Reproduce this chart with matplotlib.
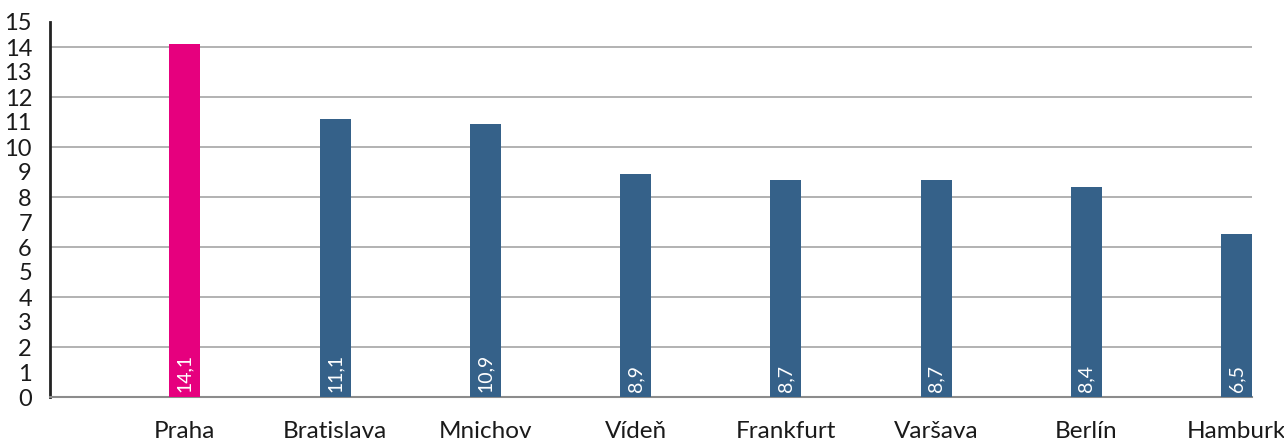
import matplotlib.pyplot as plt
import numpy as np

# data
cities = ['Praha', 'Bratislava', 'Mnichov', 'Vídeň', 'Frankfurt', 'Varšava', 'Berlín', 'Hamburk']
values = [14.1, 11.1, 10.9, 8.9, 8.7, 8.7, 8.4, 6.5]
colors = ['#E6007E'] + ['#356189'] * 7

plt.rcParams['font.family'] = ['Lato', 'DejaVu Sans']

fig = plt.figure(figsize=(12.84, 4.44), dpi=100)
ax = fig.add_axes([50 / 1284, 47 / 444, 1202 / 1284, 375 / 444])

x = np.arange(len(cities))
w = 0.206
pos = x + 0.5 - w / 2
ax.bar(pos, values, width=w, color=colors, zorder=3)

for p, v in zip(pos, values):
    ax.text(p, 0.22, f'{v:.1f}'.replace('.', ','), rotation=90, ha='center', va='bottom',
            color='white', fontsize=14, zorder=4)

ax.set_xlim(-0.5, 7.5)
ax.set_ylim(0, 15)
ax.set_yticks(range(0, 16))
ax.set_xticks(pos)
ax.set_xticklabels(cities, fontsize=17.5)
ax.tick_params(axis='both', length=0, colors='#1a1a1a')
ax.tick_params(axis='y', labelsize=17, pad=13)
ax.tick_params(axis='x', pad=17.5)

for yv in range(2, 16, 2):
    ax.axhline(yv, color='#a6a6a6', lw=1.2, zorder=1)

for s in ['top', 'right']:
    ax.spines[s].set_visible(False)
ax.spines['left'].set_color('#222222')
ax.spines['left'].set_linewidth(2)
ax.spines['bottom'].set_color('#8c8c8c')
ax.spines['bottom'].set_linewidth(1.5)

fig.savefig('out.png', dpi=100)
